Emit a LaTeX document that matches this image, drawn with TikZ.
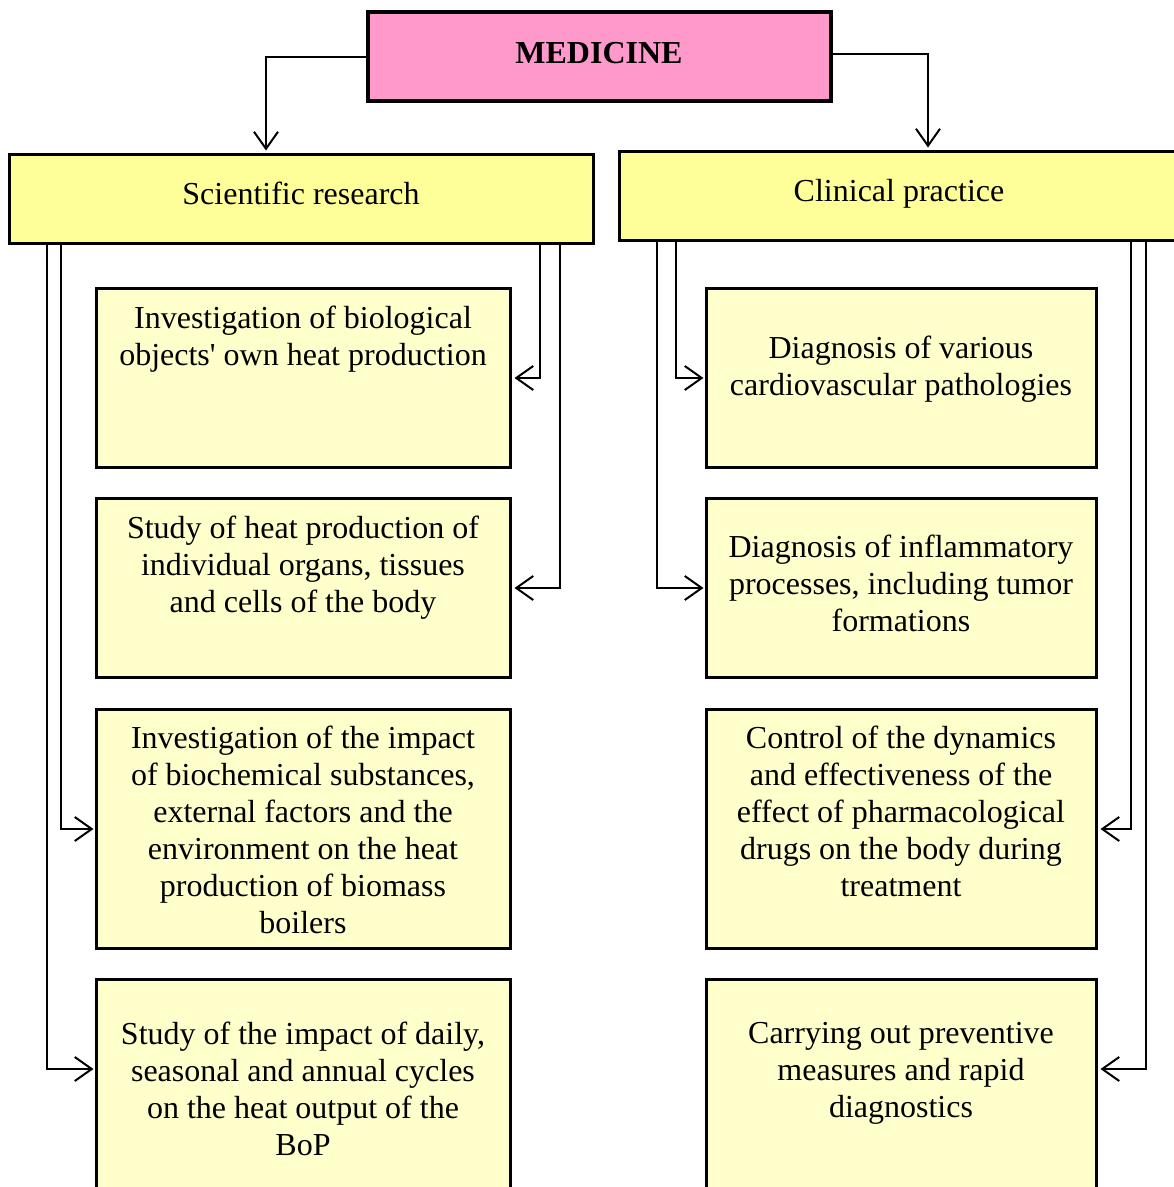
\documentclass[tikz,border=0pt]{standalone}
\usepackage{fontspec}
\setmainfont{Liberation Serif}
\usetikzlibrary{arrows.meta,calc}
\definecolor{pinkbox}{HTML}{FF99CC}
\definecolor{headbox}{HTML}{FFFF99}
\definecolor{itembox}{HTML}{FFFFCC}
\begin{document}
\begin{tikzpicture}[x=1pt,y=-1pt,
  box/.style={draw=black, line width=2.5pt, anchor=north west, inner sep=0pt, outer sep=0pt},
  itemb/.style={box, fill=itembox},
  txt/.style={align=center, font=\fontsize{32}{37}\selectfont, inner sep=0pt},
  conn/.style={line width=2pt},
  arr/.style={conn, -{Straight Barb[length=17pt,width=24pt,line width=2pt]}}]
\useasboundingbox (0,0) rectangle (1174,1187);
% top
\node[box, line width=3.5pt, fill=pinkbox, minimum width=463pt, minimum height=89pt] (med) at (368,12) {};
\node[txt, anchor=base, font=\bfseries\fontsize{32}{37}\selectfont] (medt) at (599,63) {MEDICINE};
% headers
\node[box, fill=headbox, minimum width=584pt, minimum height=89pt] (sci) at (9.5,154.5) {};
\node[txt, anchor=base] (scit) at (301,204) {Scientific research};
\node[box, fill=headbox, minimum width=561pt, minimum height=89pt] (clin) at (619.5,151.5) {};
\node[txt, anchor=base] (clint) at (899,201) {Clinical practice};
% left items
\node[itemb, minimum width=414pt, minimum height=179pt] (L1) at (96.5,288.5) {};
\node[itemb, minimum width=414pt, minimum height=179pt] (L2) at (96.5,498.5) {};
\node[itemb, minimum width=414pt, minimum height=239pt] (L3) at (96.5,709.5) {};
\node[itemb, minimum width=414pt, minimum height=260pt] (L4) at (96.5,979.5) {};
% right items
\node[itemb, minimum width=390pt, minimum height=179pt] (R1) at (706.5,288.5) {};
\node[itemb, minimum width=390pt, minimum height=179pt] (R2) at (706.5,498.5) {};
\node[itemb, minimum width=390pt, minimum height=239pt] (R3) at (706.5,709.5) {};
\node[itemb, minimum width=390pt, minimum height=260pt] (R4) at (706.5,979.5) {};
% texts
\node[txt] (L1t) at (303,339) {Investigation of biological\\objects\textquotesingle{} own heat production};
\node[txt] (L2t) at (303,568) {Study of heat production of\\individual organs, tissues\\and cells of the body};
\node[txt] (L3t) at (303,829.5) {Investigation of the impact\\of biochemical substances,\\external factors and the\\environment on the heat\\production of biomass\\boilers};
\node[txt] (L4t) at (303,1088.5) {Study of the impact of daily,\\seasonal and annual cycles\\on the heat output of the\\BoP};
\node[txt] (R1t) at (901,369.5) {Diagnosis of various\\cardiovascular pathologies};
\node[txt] (R2t) at (901,583) {Diagnosis of inflammatory\\processes, including tumor\\formations};
\node[txt] (R3t) at (901,811) {Control of the dynamics\\and effectiveness of the\\effect of pharmacological\\drugs on the body during\\treatment};
\node[txt] (R4t) at (901,1073) {Carrying out preventive\\measures and rapid\\diagnostics};
% connectors from MEDICINE
\draw[arr] ($(med.north west)+(0,45)$) -| ($(sci.north west)+(256.5,-4)$);
\draw[arr] ($(med.north east)+(0,42)$) -| ($(clin.north west)+(308.5,-4)$);
% scientific research connectors
\draw[arr] ($(sci.south west)+(37.5,0)$) |- ($(L4.north west)+(-3,89.5)$);
\draw[arr] ($(sci.south west)+(51.5,0)$) |- ($(L3.west)+(-3,0)$);
\draw[arr] ($(sci.south west)+(530.5,0)$) |- ($(L1.east)+(4,0)$);
\draw[arr] ($(sci.south west)+(550.5,0)$) |- ($(L2.east)+(4,0)$);
% clinical practice connectors
\draw[arr] ($(clin.south west)+(37.5,0)$) |- ($(R2.west)+(-3,0)$);
\draw[arr] ($(clin.south west)+(56.5,0)$) |- ($(R1.west)+(-3,0)$);
\draw[arr] ($(clin.south west)+(511.5,0)$) |- ($(R3.east)+(4,0)$);
\draw[arr] ($(clin.south west)+(526.5,0)$) |- ($(R4.north east)+(4,89.5)$);
\end{tikzpicture}
\end{document}
